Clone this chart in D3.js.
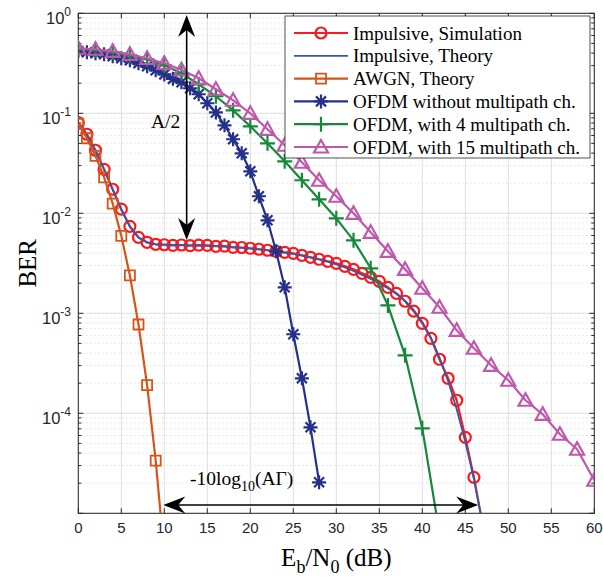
<!DOCTYPE html>
<html>
<head>
<meta charset="utf-8">
<script src="https://cdn.jsdelivr.net/npm/d3@7"></script>
<style>
  body { margin: 0; background: #fff; }
  text { font-family: "Liberation Serif", "Times New Roman", serif; fill: #000; }
  .tick-label { font-family: "Liberation Sans", Arial, sans-serif; fill: #262626; }
</style>
</head>
<body>
<div id="canvas"></div>
<script>
// ---- data ----
const xTicks = [0, 5, 10, 15, 20, 25, 30, 35, 40, 45, 50, 55, 60];
const yDecades = [-5, -4, -3, -2, -1, 0];
const yLabelDecades = [-4, -3, -2, -1, 0];

// dB grids
const ebno0to47 = [0,1,2,3,4,5,6,7,8,9,10,11,12,13,14,15,16,17,18,19,20,21,22,23,24,25,26,27,28,29,30,31,32,33,34,35,36,37,38,39,40,41,42,43,44,45,46,47];
const ebno0to10 = [0,1,2,3,4,5,6,7,8,9,10];
const ebno0to28 = [0,1,2,3,4,5,6,7,8,9,10,11,12,13,14,15,16,17,18,19,20,21,22,23,24,25,26,27,28];
const ebno0to42by2 = [0,2,4,6,8,10,12,14,16,18,20,22,24,26,28,30,32,34,36,38,40,42];
const ebno0to60by2 = [0,2,4,6,8,10,12,14,16,18,20,22,24,26,28,30,32,34,36,38,40,42,44,46,48,50,52,54,56,58,60];

const impulsiveSim = [8.05e-2, 6.17e-2, 4.27e-2, 2.75e-2, 1.74e-2, 1.10e-2, 7.41e-3, 5.75e-3, 5.13e-3, 4.90e-3,
  4.85e-3, 4.78e-3, 4.82e-3, 4.75e-3, 4.80e-3, 4.77e-3, 4.68e-3, 4.70e-3, 4.57e-3, 4.55e-3,
  4.47e-3, 4.37e-3, 4.27e-3, 4.17e-3, 4.07e-3, 3.98e-3, 3.80e-3, 3.63e-3, 3.47e-3, 3.31e-3,
  3.16e-3, 2.95e-3, 2.75e-3, 2.51e-3, 2.29e-3, 2.09e-3, 1.82e-3, 1.58e-3, 1.32e-3, 1.05e-3,
  7.94e-4, 5.62e-4, 3.47e-4, 2.24e-4, 1.35e-4, 5.75e-5, 2.29e-5, 7.9e-6];
const impulsiveTheory = [7.9e-2, 6.0e-2, 4.2e-2, 2.75e-2, 1.72e-2, 1.08e-2, 7.3e-3, 5.7e-3, 5.1e-3, 4.9e-3,
  4.85e-3, 4.82e-3, 4.80e-3, 4.78e-3, 4.76e-3, 4.73e-3, 4.69e-3, 4.64e-3, 4.58e-3, 4.51e-3,
  4.44e-3, 4.35e-3, 4.26e-3, 4.16e-3, 4.05e-3, 3.93e-3, 3.79e-3, 3.63e-3, 3.46e-3, 3.28e-3,
  3.08e-3, 2.87e-3, 2.65e-3, 2.42e-3, 2.20e-3, 1.99e-3, 1.78e-3, 1.56e-3, 1.33e-3, 1.08e-3,
  8.2e-4, 5.7e-4, 3.6e-4, 2.1e-4, 1.1e-4, 5.2e-5, 2.2e-5, 8.0e-6];
const awgnTheory = [7.86e-2, 5.63e-2, 3.75e-2, 2.29e-2, 1.25e-2, 5.95e-3, 2.39e-3, 7.73e-4, 1.91e-4, 3.36e-5, 3.87e-6];
const ofdmNoMp = [0.417, 0.407, 0.398, 0.389, 0.372, 0.355, 0.339, 0.316, 0.295, 0.269,
  0.245, 0.221, 0.204, 0.178, 0.155, 0.126, 0.102, 7.59e-2, 5.50e-2, 3.98e-2,
  2.63e-2, 1.48e-2, 8.51e-3, 4.17e-3, 1.82e-3, 6.17e-4, 2.24e-4, 7.24e-5, 2.04e-5];
const ofdm4Mp = [0.437, 0.427, 0.407, 0.380, 0.347, 0.302, 0.251, 0.195, 0.148, 0.107,
  7.41e-2, 5.01e-2, 3.31e-2, 2.14e-2, 1.38e-2, 8.91e-3, 5.37e-3, 2.82e-3, 1.20e-3, 3.80e-4,
  7.08e-5, 6.3e-6];
const ofdm15Mp = [0.447, 0.437, 0.417, 0.389, 0.355, 0.316, 0.272, 0.224, 0.174, 0.135,
  0.100, 6.92e-2, 4.79e-2, 3.24e-2, 2.14e-2, 1.48e-2, 1.00e-2, 6.46e-3, 4.17e-3, 2.75e-3,
  1.78e-3, 1.15e-3, 6.76e-4, 4.47e-4, 3.02e-4, 2.14e-4, 1.35e-4, 9.77e-5, 6.17e-5, 4.37e-5,
  2.14e-5];

const legendLabels = ["Impulsive, Simulation", "Impulsive, Theory", "AWGN, Theory",
  "OFDM without multipath ch.", "OFDM, with 4 multipath ch.", "OFDM, with 15 multipath ch."];

// ---- layout ----
const width = 603, height = 581;
const pLeft = 78.3, pRight = 594.3, pTop = 13.3, pBottom = 513.3;

const svg = d3.select("#canvas").append("svg")
  .attr("width", width).attr("height", height);

const x = d3.scaleLinear().domain([0, 60]).range([pLeft, pRight]);
const y = d3.scaleLog().domain([1e-5, 1]).range([pBottom, pTop]);

svg.append("defs").append("clipPath").attr("id", "plotclip")
  .append("rect").attr("x", pLeft).attr("y", pTop)
  .attr("width", pRight - pLeft).attr("height", pBottom - pTop);

// grid
const grid = svg.append("g");
const minorVals = [];
yDecades.slice(0, -1).forEach(e => {
  [2,3,4,5,6,7,8,9].forEach(m => minorVals.push(m * Math.pow(10, e)));
});
grid.selectAll(".minor").data(minorVals).enter().append("line")
  .attr("x1", pLeft).attr("x2", pRight)
  .attr("y1", d => y(d)).attr("y2", d => y(d))
  .attr("stroke", "#c4c4c4").attr("stroke-width", 0.8)
  .attr("stroke-dasharray", "1,3");
grid.selectAll(".vmaj").data(xTicks).enter().append("line")
  .attr("x1", d => x(d)).attr("x2", d => x(d))
  .attr("y1", pTop).attr("y2", pBottom)
  .attr("stroke", "#dedede").attr("stroke-width", 1);
grid.selectAll(".hmaj").data(yDecades).enter().append("line")
  .attr("x1", pLeft).attr("x2", pRight)
  .attr("y1", d => y(Math.pow(10, d))).attr("y2", d => y(Math.pow(10, d)))
  .attr("stroke", "#dedede").attr("stroke-width", 1);

// axes box with inward ticks
const ax = svg.append("g").attr("stroke", "#262626").attr("stroke-width", 1);
ax.append("rect").attr("x", pLeft).attr("y", pTop)
  .attr("width", pRight - pLeft).attr("height", pBottom - pTop).attr("fill", "none");
xTicks.forEach(t => {
  ax.append("line").attr("x1", x(t)).attr("x2", x(t)).attr("y1", pBottom).attr("y2", pBottom - 5);
  ax.append("line").attr("x1", x(t)).attr("x2", x(t)).attr("y1", pTop).attr("y2", pTop + 5);
});
yDecades.forEach(e => {
  const yy = y(Math.pow(10, e));
  ax.append("line").attr("x1", pLeft).attr("x2", pLeft + 5).attr("y1", yy).attr("y2", yy);
  ax.append("line").attr("x1", pRight).attr("x2", pRight - 5).attr("y1", yy).attr("y2", yy);
});
minorVals.forEach(v => {
  const yy = y(v);
  ax.append("line").attr("x1", pLeft).attr("x2", pLeft + 3).attr("y1", yy).attr("y2", yy);
  ax.append("line").attr("x1", pRight).attr("x2", pRight - 3).attr("y1", yy).attr("y2", yy);
});

// tick labels
svg.selectAll(".xl").data(xTicks).enter().append("text")
  .attr("class", "tick-label")
  .attr("x", d => x(d)).attr("y", pBottom + 20)
  .attr("text-anchor", "middle").attr("font-size", 15)
  .text(d => d);
yLabelDecades.forEach(e => {
  const t = svg.append("text").attr("class", "tick-label")
    .attr("x", 71).attr("y", y(Math.pow(10, e)) + 11)
    .attr("text-anchor", "end").attr("font-size", 16.5);
  t.append("tspan").text("10");
  t.append("tspan").attr("dy", -8).attr("font-size", 12).text(e);
});

// axis titles
const xt = svg.append("text").attr("x", (pLeft + pRight) / 2).attr("y", 566)
  .attr("text-anchor", "middle").attr("font-size", 25).attr("fill", "#262626");
xt.append("tspan").text("E");
xt.append("tspan").attr("dy", 7).attr("font-size", 18).text("b");
xt.append("tspan").attr("dy", -7).text("/N");
xt.append("tspan").attr("dy", 7).attr("font-size", 18).text("0");
xt.append("tspan").attr("dy", -7).text(" (dB)");

svg.append("text")
  .attr("transform", `translate(36,${(pTop + pBottom) / 2}) rotate(-90)`)
  .attr("text-anchor", "middle").attr("font-size", 25).attr("fill", "#262626")
  .text("BER");

// markers
function markerPath(kind) {
  if (kind === "triangle") return "M0,-7L7,5.5L-7,5.5Z";
  if (kind === "plus") return "M-7.5,0H7.5M0,-7.5V7.5";
  if (kind === "star") return "M-7,0H7M0,-7V7M-5,-5L5,5M-5,5L5,-5";
  if (kind === "square") return "M-5,-5H5V5H-5Z";
  if (kind === "circle") return "M5.5,0A5.5,5.5 0 1,1 -5.5,0A5.5,5.5 0 1,1 5.5,0Z";
  return "";
}

const series = [
  { xs: ebno0to47, ys: impulsiveSim, color: "#f81a1f", lw: 2.2, marker: "circle", mw: 2.2 },
  { xs: ebno0to47, ys: impulsiveTheory, color: "#3558a8", lw: 1.8, marker: null },
  { xs: ebno0to10, ys: awgnTheory, color: "#d95319", lw: 2.2, marker: "square", mw: 1.8 },
  { xs: ebno0to28, ys: ofdmNoMp, color: "#24318a", lw: 2.2, marker: "star", mw: 2.2 },
  { xs: ebno0to42by2, ys: ofdm4Mp, color: "#16883a", lw: 2.2, marker: "plus", mw: 2.2 },
  { xs: ebno0to60by2, ys: ofdm15Mp, color: "#bd58ad", lw: 2.2, marker: "triangle", mw: 2.2 }
];

const plot = svg.append("g").attr("clip-path", "url(#plotclip)");
const line = d3.line().x(d => x(d[0])).y(d => y(d[1]));

series.forEach(s => {
  const pts = s.xs.map((v, i) => [v, s.ys[i]]);
  plot.append("path").datum(pts)
    .attr("d", line).attr("fill", "none")
    .attr("stroke", s.color).attr("stroke-width", s.lw)
    .attr("stroke-linejoin", "round");
  if (s.marker) {
    plot.selectAll(null).data(pts).enter().append("path")
      .attr("transform", d => `translate(${x(d[0])},${y(d[1])})`)
      .attr("d", markerPath(s.marker))
      .attr("fill", "none").attr("stroke", s.color).attr("stroke-width", s.mw);
  }
});

// arrows (MATLAB-style notched heads)
function arrowHead(g, tx, ty, dx, dy) {
  const L = 22, W = 8.5, N = 15;
  const bx = tx - dx * L, by = ty - dy * L;
  const nx = -dy, ny = dx;
  const nxp = tx - dx * N, nyp = ty - dy * N;
  g.append("path")
    .attr("d", `M${tx},${ty}L${bx + nx * W},${by + ny * W}L${nxp},${nyp}L${bx - nx * W},${by - ny * W}Z`)
    .attr("fill", "#000");
}
const arr = svg.append("g");
const vX = 12.6, vTop = 0.96, vBot = 5.4e-3;
arr.append("line").attr("x1", x(vX)).attr("x2", x(vX))
  .attr("y1", y(vTop) + 10).attr("y2", y(vBot) - 10)
  .attr("stroke", "#000").attr("stroke-width", 1.6);
arrowHead(arr, x(vX), y(vTop), 0, -1);
arrowHead(arr, x(vX), y(vBot), 0, 1);

const hY = 1.21e-5, hL = 9.88, hR = 46.5;
arr.append("line").attr("x1", x(hL) + 10).attr("x2", x(hR) - 10)
  .attr("y1", y(hY)).attr("y2", y(hY))
  .attr("stroke", "#000").attr("stroke-width", 1.6);
arrowHead(arr, x(hL), y(hY), -1, 0);
arrowHead(arr, x(hR), y(hY), 1, 0);

svg.append("text").attr("x", x(8.45)).attr("y", y(7.2e-2))
  .attr("font-size", 19.5).attr("fill", "#262626").text("A/2");

const lt = svg.append("text").attr("x", x(13.0)).attr("y", y(1.9e-5))
  .attr("font-size", 19.5).attr("fill", "#262626");
lt.append("tspan").text("-10log");
lt.append("tspan").attr("dy", 6).attr("font-size", 14).text("10");
lt.append("tspan").attr("dy", -6).text("(A\u0393)");

// legend
const lg = svg.append("g");
lg.append("rect").attr("x", 285).attr("y", 16).attr("width", 305).attr("height", 142)
  .attr("fill", "#fff").attr("stroke", "#262626").attr("stroke-width", 0.8);
series.forEach((s, i) => {
  const cy = 33 + i * 22.8;
  lg.append("line").attr("x1", 294).attr("x2", 348).attr("y1", cy).attr("y2", cy)
    .attr("stroke", s.color).attr("stroke-width", s.lw);
  if (s.marker) {
    lg.append("path").attr("transform", `translate(321,${cy})`)
      .attr("d", markerPath(s.marker)).attr("fill", "none")
      .attr("stroke", s.color).attr("stroke-width", s.mw);
  }
  lg.append("text").attr("x", 353).attr("y", cy + 6.5)
    .attr("font-size", 19).attr("fill", "#262626").text(legendLabels[i]);
});
</script>
</body>
</html>
